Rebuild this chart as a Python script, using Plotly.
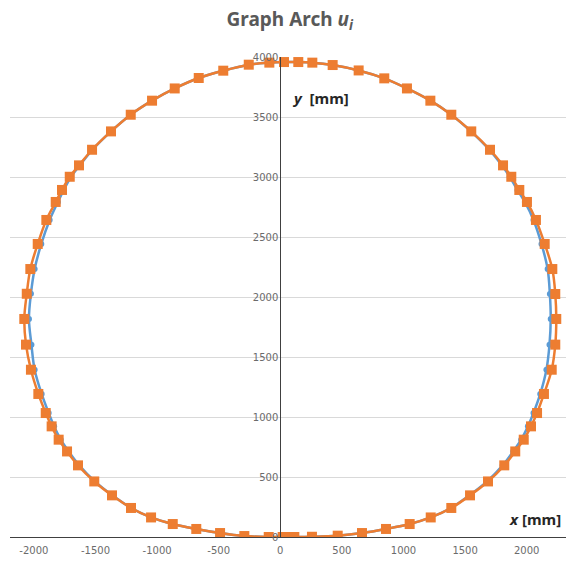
import plotly.graph_objects as go

# Arch profile u_i, traced counter-clockwise from the crown of the invert (x, y in mm)
orange_x = [40, 114, 257, 466, 663, 858, 1050, 1221, 1388, 1540, 1686, 1818, 1907, 1976,
            2035, 2084, 2140, 2203, 2232, 2240, 2232, 2208, 2146, 2075, 2002, 1940, 1875,
            1808, 1702, 1550, 1388, 1218, 1028, 844, 636, 425, 260, 146, 30,
            -89, -256, -463, -662, -857, -1041, -1214, -1374, -1528, -1634, -1709, -1772,
            -1823, -1899, -1969, -2029, -2058, -2078, -2064, -2024, -1964, -1904, -1856,
            -1799, -1731, -1642, -1510, -1366, -1212, -1049, -873, -682, -489, -292, -94, 19]
orange_y = [0, 0, 2, 11, 33, 67, 108, 163, 242, 347, 463, 597, 713, 811,
            922, 1033, 1192, 1394, 1603, 1817, 2025, 2233, 2442, 2642, 2792, 2892, 3002,
            3097, 3227, 3380, 3519, 3636, 3738, 3822, 3888, 3933, 3953, 3958, 3958,
            3953, 3936, 3886, 3825, 3738, 3636, 3519, 3380, 3227, 3097, 3002, 2892,
            2792, 2642, 2442, 2233, 2027, 1817, 1603, 1394, 1192, 1033, 922,
            811, 713, 597, 463, 347, 242, 163, 108, 67, 33, 8, 0, 0]

# Reference profile (blue), same stations
blue_x = [40, 114, 257, 466, 663, 858, 1050, 1221, 1386, 1535, 1678, 1805, 1890, 1955,
          2010, 2055, 2110, 2160, 2185, 2195, 2188, 2170, 2120, 2055, 1985, 1925, 1862,
          1798, 1696, 1547, 1388, 1218, 1028, 844, 636, 425, 260, 146, 30,
          -89, -256, -463, -662, -857, -1041, -1214, -1374, -1524, -1627, -1698, -1758,
          -1805, -1872, -1940, -1994, -2024, -2040, -2020, -1994, -1937, -1880, -1836,
          -1782, -1718, -1632, -1505, -1363, -1212, -1049, -873, -682, -489, -292, -94, 19]
blue_y = orange_y

x_ticks = [-2000, -1500, -1000, -500, 0, 500, 1000, 1500, 2000]
y_ticks = [0, 500, 1000, 1500, 2000, 2500, 3000, 3500, 4000]

X_RANGE = [-2194, 2319]
Y_RANGE = [0, 4000]

fig = go.Figure()
fig.add_trace(go.Scatter(
    x=blue_x, y=blue_y, mode="lines+markers",
    line=dict(color="#5B9BD5", width=2.5, shape="spline", smoothing=1),
    marker=dict(symbol="circle", size=6, color="#5B9BD5"),
    showlegend=False,
))
fig.add_trace(go.Scatter(
    x=orange_x, y=orange_y, mode="lines+markers",
    line=dict(color="#ED7D31", width=2.5, shape="spline", smoothing=1),
    marker=dict(symbol="square", size=10, color="#ED7D31"),
    showlegend=False,
))

# y axis crosses the x axis at x = 0
y_pos = (0 - X_RANGE[0]) / (X_RANGE[1] - X_RANGE[0])

tick_font = dict(family="DejaVu Sans", size=10, color="#6b6b6b")

fig.update_layout(
    width=566, height=562,
    margin=dict(l=10, r=0, t=57, b=25),
    paper_bgcolor="white", plot_bgcolor="white",
    title=dict(
        text="Graph Arch <b><i>u</i></b><sub><i>i</i></sub>",
        x=0.512, xanchor="center", y=0.966, yanchor="middle",
        font=dict(family="Noto Sans", size=19, color="#595959", weight="bold"),
    ),
    xaxis=dict(
        range=X_RANGE, tickvals=x_ticks, ticktext=[str(v) for v in x_ticks],
        showgrid=False, zeroline=False, showline=True, linecolor="#404040", linewidth=1,
        ticks="", tickfont=tick_font, ticklabelstandoff=4,
    ),
    yaxis=dict(
        range=Y_RANGE, tickvals=y_ticks, ticktext=[str(v) for v in y_ticks],
        anchor="free", position=y_pos,
        showgrid=True, gridcolor="#D9D9D9", gridwidth=1,
        zeroline=False, showline=True, linecolor="#404040", linewidth=1,
        ticks="", tickfont=tick_font,
    ),
    annotations=[
        dict(text="<b><i>y</i>  [mm]</b>", xref="paper", yref="paper",
             x=0.5036, y=0.915, xanchor="left", yanchor="middle", showarrow=False,
             font=dict(family="Noto Sans", size=15, color="#262626")),
        dict(text="<b><i>x</i> [mm]</b>", xref="paper", yref="paper",
             x=0.995, y=0.038, xanchor="right", yanchor="middle", showarrow=False,
             font=dict(family="Noto Sans", size=15, color="#262626")),
    ],
)

fig.write_html("out.html", config={"displayModeBar": False})
